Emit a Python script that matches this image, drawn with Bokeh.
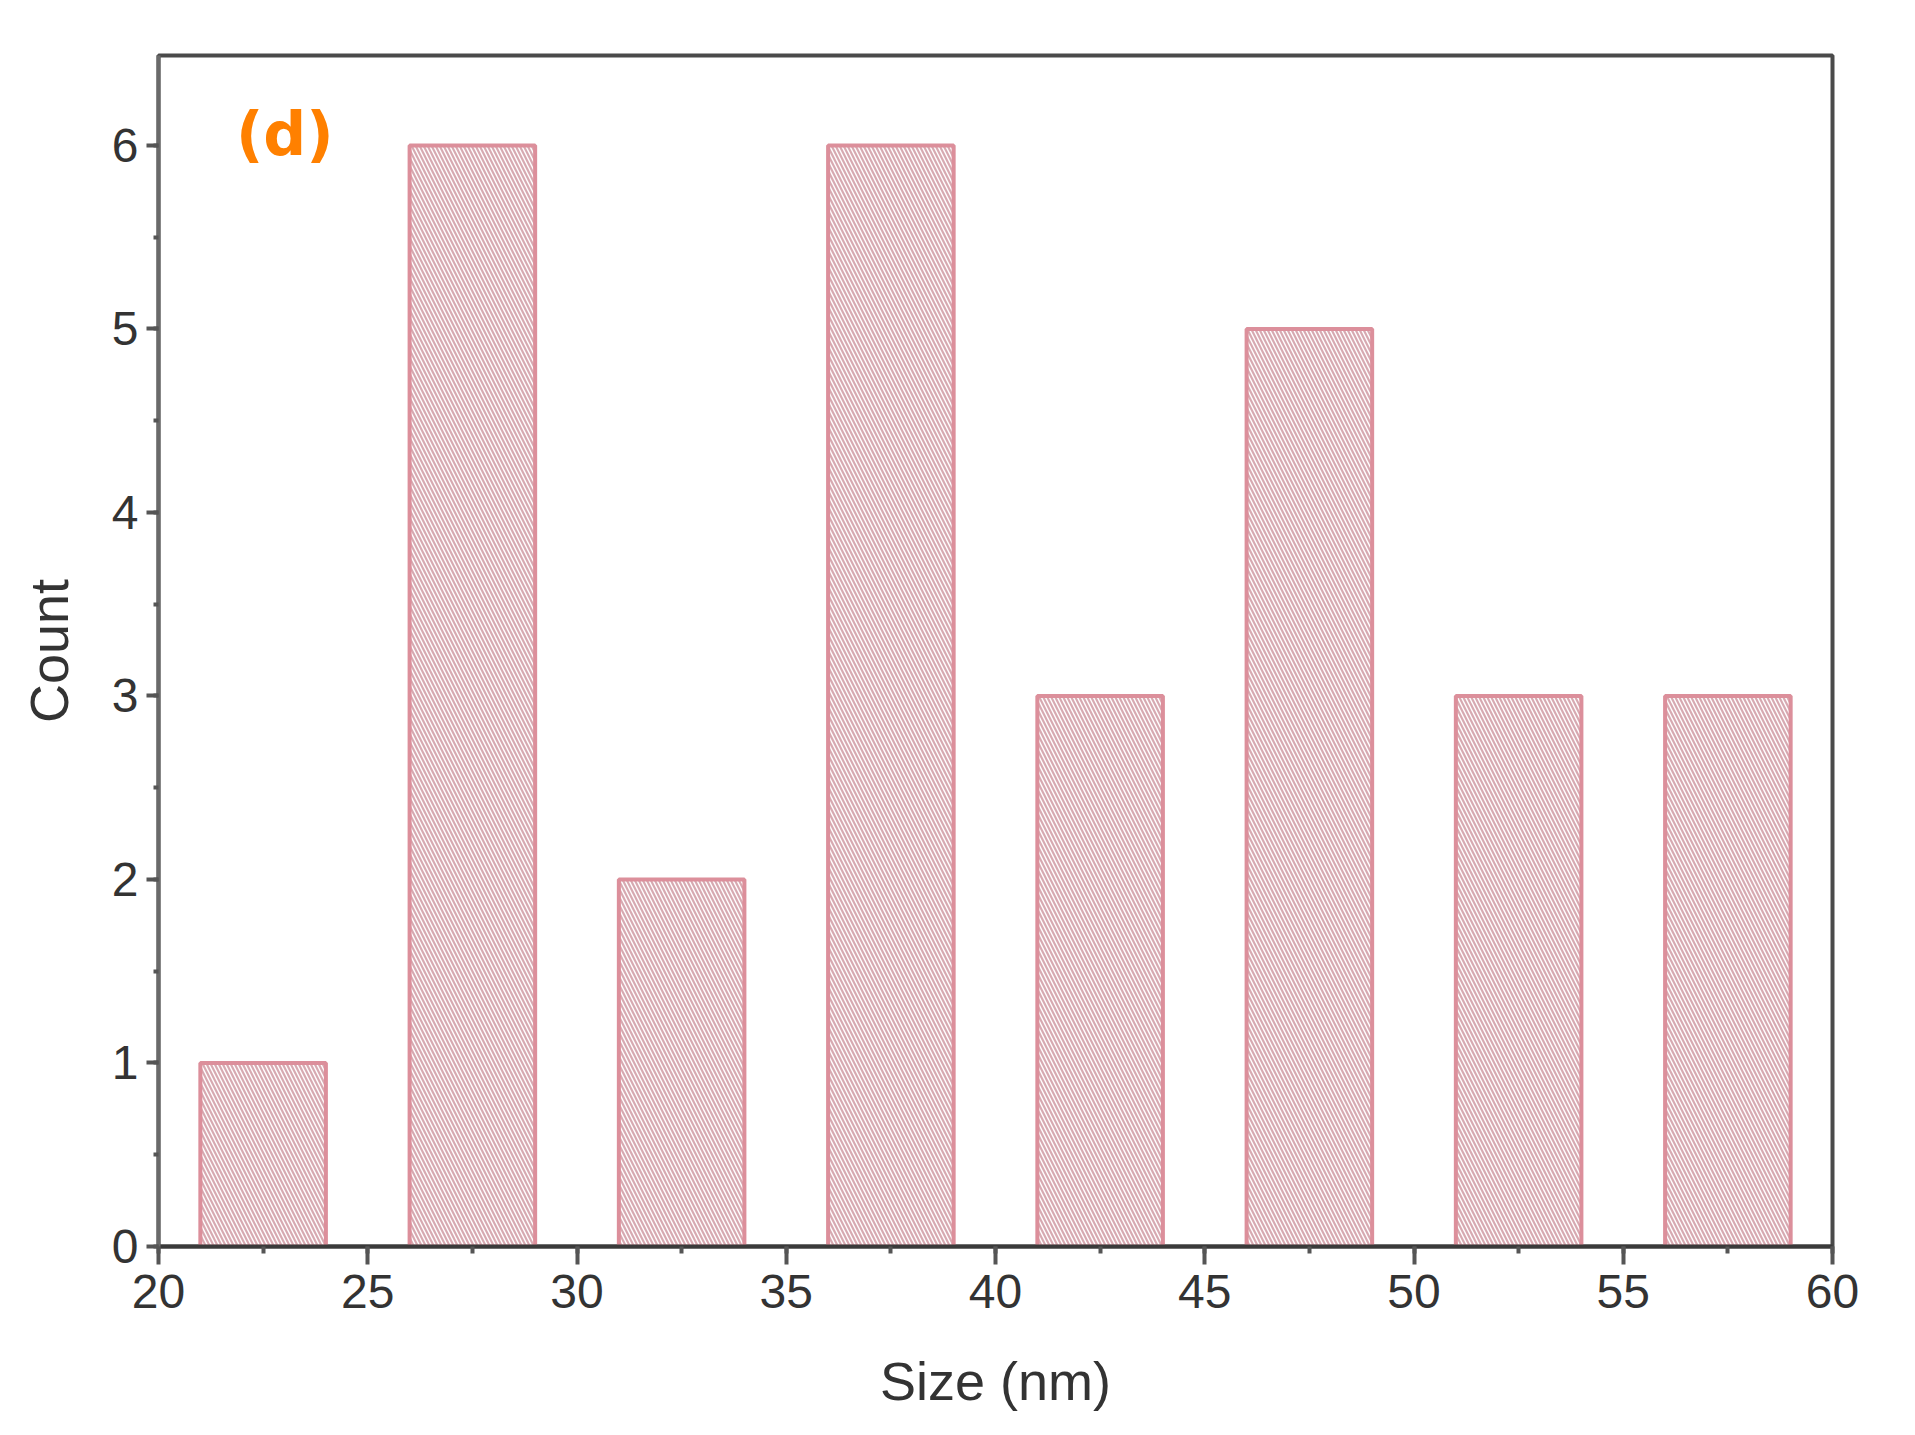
from bokeh.plotting import figure
from bokeh.models import SingleIntervalTicker, ColumnDataSource
from bokeh.core.properties import value
from bokeh.embed import file_html
from bokeh.resources import INLINE

# ---- data ----
bin_start = [21, 26, 31, 36, 41, 46, 51, 56]
bin_end = [24, 29, 34, 39, 44, 49, 54, 59]
counts = [1, 6, 2, 6, 3, 5, 3, 3]
x_label = "Size (nm)"
y_label = "Count"
panel_label = "(d)"
panel_label_pos = (21.85, 6.06)

FONT = "Liberation Sans"

p = figure(width=1899, height=1419, x_range=(20, 60), y_range=(0, 6.49),
           output_backend="svg", toolbar_location=None,
           min_border_left=158, min_border_right=67,
           min_border_top=55, min_border_bottom=173,
           background_fill_color="white", border_fill_color="white")

p.xgrid.visible = False
p.ygrid.visible = False

src = ColumnDataSource(dict(left=bin_start, right=bin_end, top=counts,
                            bottom=[0] * len(counts)))
p.quad(left="left", right="right", top="top", bottom="bottom", source=src,
       fill_color="white", fill_alpha=1.0,
       hatch_pattern="left_diagonal_line", hatch_color="#d7a9b1",
       hatch_scale=8, hatch_weight=2.2,
       line_color="#dc8f9b", line_width=4)

p.text(x=[panel_label_pos[0]], y=[panel_label_pos[1]], text=[panel_label],
       text_font=value("DejaVu Sans"), text_font_style="bold", text_font_size="60px",
       text_color="#ff8000", text_baseline="middle", text_align="left")

p.outline_line_color = "#4a4a4a"
p.outline_line_width = 4
p.outline_line_alpha = 1.0

p.xaxis.ticker = SingleIntervalTicker(interval=5, num_minor_ticks=2)
p.yaxis.ticker = SingleIntervalTicker(interval=1, num_minor_ticks=2)

for ax in (p.xaxis[0], p.yaxis[0]):
    ax.axis_line_width = 4
    ax.axis_line_color = "#3a3a3a"
    ax.major_tick_line_width = 4
    ax.major_tick_line_color = "#555555"
    ax.minor_tick_line_width = 4
    ax.minor_tick_line_color = "#555555"
    ax.major_tick_in = 0
    ax.minor_tick_in = 0
    ax.major_label_text_font = FONT
    ax.major_label_text_font_size = "48px"
    ax.major_label_text_color = "#333333"
    ax.axis_label_text_font = FONT
    ax.axis_label_text_font_size = "54px"
    ax.axis_label_text_font_style = "normal"
    ax.axis_label_text_color = "#333333"

p.xaxis.major_tick_out = 18
p.xaxis.minor_tick_out = 7
p.yaxis.major_tick_out = 12
p.yaxis.minor_tick_out = 5
p.yaxis.axis_line_color = "#6a6a6a"

p.xaxis.axis_label = x_label
p.yaxis.axis_label = y_label
p.xaxis.major_label_standoff = 10
p.xaxis.axis_label_standoff = 40
p.yaxis.major_label_standoff = 8
p.yaxis.axis_label_standoff = 30

open("out.html", "w").write(file_html(p, INLINE))
